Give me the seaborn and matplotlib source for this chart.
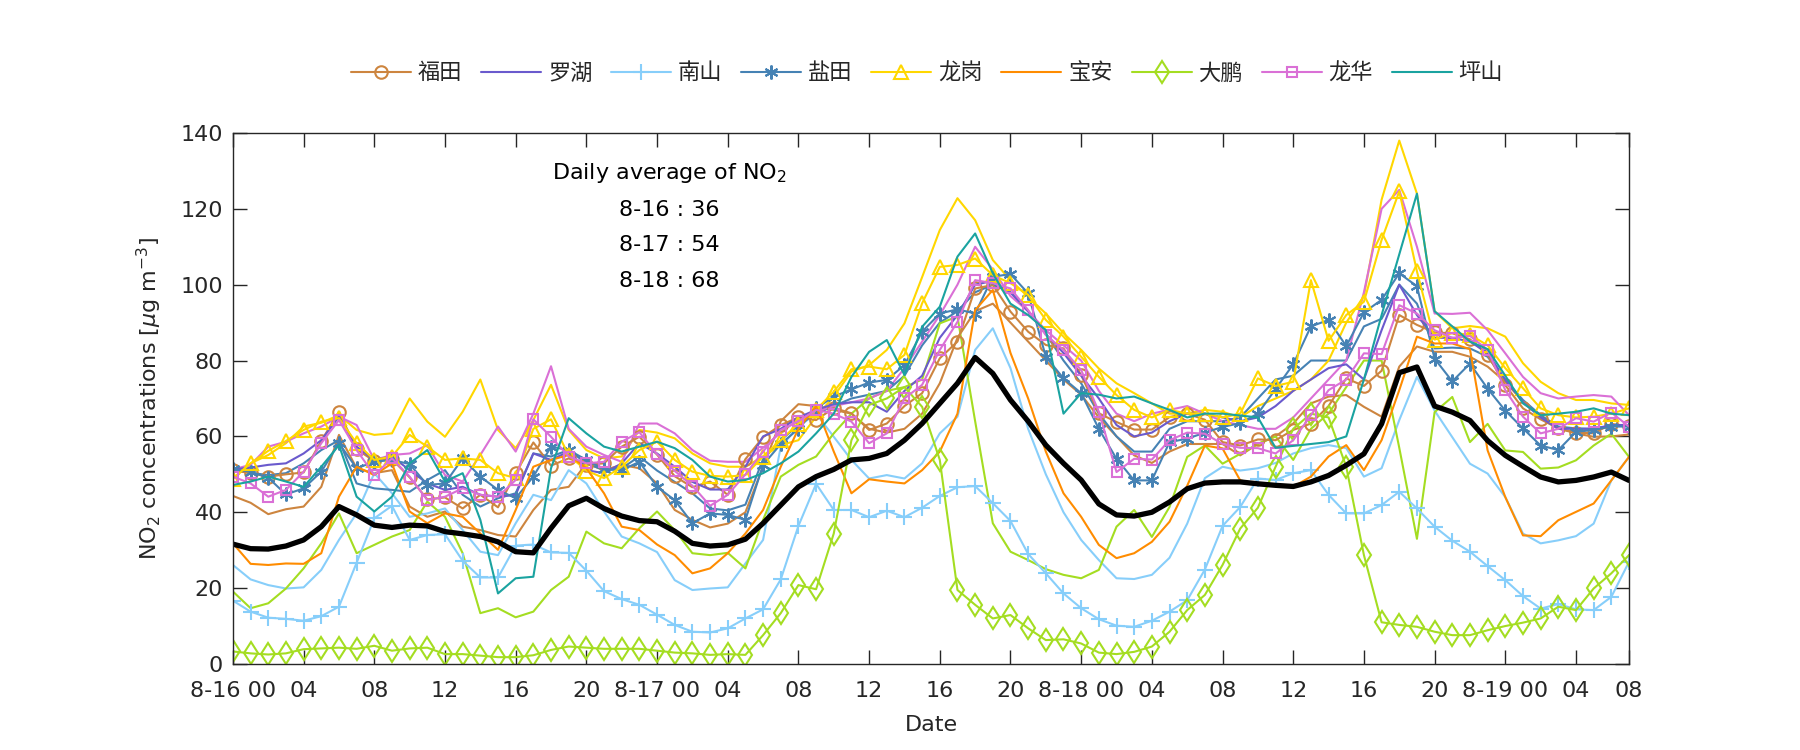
import numpy as np
import pandas as pd
import matplotlib
matplotlib.use("Agg")
import matplotlib.pyplot as plt
import seaborn as sns

# ============================
# ========== DATA ============
# ============================

hours = np.arange(80)

stations = ["福田", "罗湖", "南山", "盐田", "龙岗", "宝安", "大鹏", "龙华", "坪山"]

xtick_pos = list(range(0, 77, 4)) + [79]
xtick_labels = ["8-16 00", "04", "08", "12", "16", "20",
                "8-17 00", "04", "08", "12", "16", "20",
                "8-18 00", "04", "08", "12", "16", "20",
                "8-19 00", "04", "08"]

daily_days = ["8-16", "8-17", "8-18"]
daily_avg = [36, 54, 68]

# station series drawn with markers (legend entries)
futian = [51.1, 50.3, 49.4, 50.0, 50.5, 58.8, 66.5, 56.6, 53.5, 54.0,
          49.2, 43.4, 43.9, 41.0, 44.6, 41.3, 50.3, 58.4, 52.3, 54.2,
          52.5, 52.9, 57.3, 59.9, 55.2, 49.5, 46.6, 48.1, 44.6, 54.0,
          59.8, 63.0, 65.0, 64.3, 67.5, 66.1, 61.7, 63.4, 68.0, 71.4,
          80.6, 85.0, 99.0, 99.9, 92.9, 87.6, 84.1, 83.2, 76.2, 66.1,
          63.8, 61.8, 61.8, 65.1, 66.0, 64.4, 58.5, 57.6, 59.2, 59.0,
          61.7, 63.4, 68.0, 75.3, 73.3, 77.3, 92.0, 89.4, 87.4, 87.2,
          85.6, 81.5, 73.5, 67.4, 64.5, 62.1, 61.0, 60.8, 63.3, 62.7]

luohu = [51.3, 51.8, 52.5, 52.9, 55.5, 59.0, 65.2, 57.3, 53.8, 54.7,
         51.1, 47.6, 45.9, 46.7, 44.6, 44.1, 44.6, 55.5, 53.8, 56.0,
         51.1, 50.3, 52.9, 58.2, 55.5, 52.0, 48.0, 46.0, 46.0, 52.0,
         60.0, 62.0, 65.0, 67.0, 68.5, 69.0, 69.0, 66.5, 72.0, 76.0,
         86.0, 92.0, 100.0, 101.0, 98.0, 93.0, 87.0, 82.0, 76.0, 70.0,
         63.0, 60.0, 61.0, 64.0, 66.0, 66.0, 65.0, 64.0, 65.0, 68.0,
         72.0, 75.0, 78.0, 79.0, 75.0, 88.0, 100.0, 92.0, 86.0, 86.0,
         85.0, 82.0, 75.0, 69.0, 65.0, 62.0, 62.0, 62.0, 63.0, 63.0]

nanshan = [16.7, 13.8, 12.2, 11.9, 11.4, 12.6, 15.1, 26.7, 38.4, 41.7,
           32.7, 34.0, 34.2, 27.2, 22.8, 22.8, 31.2, 31.5, 29.4, 29.3,
           24.6, 19.2, 17.1, 15.6, 13.0, 10.3, 8.5, 8.3, 9.4, 12.0,
           14.4, 22.3, 36.4, 47.5, 40.6, 40.6, 38.7, 40.4, 38.7, 41.2,
           44.3, 46.6, 46.9, 42.4, 37.7, 29.0, 23.9, 18.6, 14.7, 11.8,
           10.1, 9.8, 11.4, 13.8, 16.8, 24.9, 36.4, 41.4, 48.9, 48.5,
           50.3, 51.1, 44.6, 39.7, 39.7, 41.9, 45.4, 41.0, 36.2, 32.5,
           29.6, 25.8, 22.1, 17.9, 14.6, 15.8, 14.4, 14.2, 17.7, 26.9]

yantian = [51.3, 50.7, 49.1, 44.7, 46.3, 50.7, 58.2, 51.6, 53.3, 53.8,
           52.7, 47.2, 47.6, 54.2, 49.4, 45.9, 43.7, 49.4, 57.3, 56.4,
           53.8, 51.3, 51.1, 53.3, 46.7, 43.2, 37.1, 39.7, 39.3, 38.0,
           52.5, 58.0, 62.0, 67.4, 70.5, 72.4, 74.2, 74.9, 78.8, 87.6,
           92.4, 93.5, 92.4, 102.1, 102.8, 97.7, 81.0, 75.3, 71.4, 62.0,
           54.1, 48.4, 48.4, 58.5, 59.4, 61.0, 62.5, 63.5, 66.0, 72.5,
           79.0, 89.0, 90.7, 83.8, 92.7, 96.0, 103.0, 99.6, 80.5, 74.5,
           79.2, 72.6, 66.8, 62.1, 57.6, 56.4, 61.2, 61.7, 62.6, 62.6]

longgang = [48.9, 52.9, 56.2, 58.8, 61.7, 63.9, 64.8, 58.2, 53.8, 54.7,
            60.4, 57.3, 53.8, 54.2, 53.8, 50.3, 49.0, 62.0, 64.5, 55.0,
            51.0, 49.0, 52.0, 56.4, 58.6, 53.8, 50.7, 49.6, 49.4, 49.8,
            54.7, 59.0, 63.4, 67.0, 71.8, 77.7, 78.4, 77.7, 81.5, 95.1,
            104.7, 105.2, 106.9, 102.5, 100.4, 97.3, 90.7, 86.3, 81.0, 75.7,
            70.9, 67.0, 65.0, 67.0, 66.0, 66.0, 65.0, 66.0, 75.3, 73.3,
            74.4, 101.2, 85.2, 92.0, 95.5, 111.8, 124.6, 103.5, 85.5, 87.3,
            86.8, 84.0, 78.0, 72.7, 67.4, 65.6, 65.0, 65.2, 66.0, 67.4]

baoan = [31.8, 26.4, 26.1, 26.5, 26.4, 29.2, 44.1, 52.0, 49.8, 52.9,
         40.2, 37.1, 39.7, 38.8, 34.4, 30.1, 40.6, 52.0, 53.8, 55.1,
         51.6, 45.0, 36.2, 35.3, 31.5, 28.7, 23.9, 25.2, 29.2, 34.4,
         40.6, 52.0, 62.0, 68.0, 56.0, 45.0, 48.7, 48.1, 47.6, 51.1,
         56.0, 66.0, 93.3, 98.6, 82.0, 70.0, 56.0, 45.0, 38.8, 31.4,
         27.9, 29.2, 32.2, 37.5, 47.0, 57.6, 56.8, 48.4, 47.5, 47.0,
         46.7, 49.4, 54.7, 57.7, 51.1, 59.0, 72.2, 86.3, 84.5, 84.5,
         83.0, 56.3, 44.0, 33.9, 33.7, 37.9, 40.1, 42.3, 48.4, 54.6]

dapeng = [3.3, 2.8, 2.5, 2.8, 3.9, 4.1, 4.3, 4.0, 4.8, 3.5,
          4.1, 4.3, 2.6, 2.6, 2.2, 1.8, 1.8, 2.3, 3.7, 4.6,
          4.3, 4.0, 4.0, 4.0, 3.5, 3.0, 2.8, 2.4, 2.6, 2.4,
          7.6, 13.4, 20.8, 19.7, 34.4, 59.0, 68.3, 70.0, 73.0, 67.8,
          53.8, 19.5, 15.6, 12.0, 12.9, 9.4, 6.3, 6.5, 5.4, 3.0,
          2.6, 3.2, 4.6, 8.5, 14.2, 18.2, 26.1, 35.7, 41.2, 52.0,
          62.0, 66.0, 65.0, 52.0, 28.7, 11.0, 10.3, 9.8, 8.5, 7.6,
          7.6, 8.9, 10.0, 10.9, 12.0, 15.1, 14.2, 19.9, 23.9, 28.7]

longhua = [49.4, 47.6, 44.1, 45.9, 50.7, 58.2, 64.3, 56.4, 49.8, 54.2,
           49.4, 43.2, 44.1, 46.3, 44.6, 44.1, 48.5, 64.5, 59.9, 54.7,
           52.9, 53.3, 58.6, 61.1, 55.3, 50.9, 47.0, 41.7, 44.6, 50.0,
           56.0, 61.7, 64.0, 67.0, 66.0, 63.9, 58.2, 60.8, 70.0, 73.6,
           82.8, 90.2, 101.2, 100.4, 99.0, 93.3, 86.7, 82.8, 77.5, 66.5,
           50.6, 54.1, 53.9, 59.0, 61.0, 60.7, 58.0, 57.0, 56.9, 55.5,
           59.0, 65.6, 72.2, 75.0, 81.9, 81.7, 94.6, 92.4, 88.0, 86.0,
           86.5, 82.8, 72.2, 65.2, 60.8, 62.0, 64.8, 63.9, 66.3, 62.6]

pingshan = [47.2, 48.1, 49.4, 48.1, 46.7, 52.0, 57.7, 44.1, 40.2, 44.1,
            52.9, 56.4, 48.1, 50.3, 38.0, 18.6, 22.6, 23.0, 51.6, 64.8,
            60.8, 57.3, 56.0, 57.3, 58.6, 56.9, 53.8, 49.4, 48.1, 48.5,
            50.3, 52.9, 56.0, 60.8, 66.0, 75.7, 82.3, 85.4, 76.2, 88.9,
            94.2, 107.4, 113.5, 103.0, 95.0, 92.0, 88.0, 66.0, 71.4, 71.0,
            70.0, 70.5, 68.7, 67.0, 65.0, 66.0, 66.0, 65.5, 65.0, 57.0,
            57.5, 58.0, 58.5, 60.0, 75.0, 92.0, 108.0, 124.0, 93.0, 89.0,
            85.0, 83.0, 76.0, 68.7, 65.6, 66.0, 66.5, 67.4, 66.0, 65.6]

# second set of lines for some stations (no markers)
futian_alt = [44.3, 42.5, 39.5, 40.8, 41.5, 46.7, 60.4, 51.6, 50.3, 51.1,
              41.5, 38.8, 40.2, 36.2, 35.3, 34.0, 33.6, 40.6, 45.9, 46.7,
              52.9, 51.1, 52.5, 51.6, 47.6, 40.6, 38.0, 36.0, 37.0, 40.0,
              52.0, 64.0, 68.5, 68.0, 67.0, 66.0, 62.0, 61.0, 62.0, 66.0,
              74.0, 86.0, 93.0, 95.0, 90.0, 85.0, 80.0, 75.0, 71.0, 65.0,
              60.0, 55.0, 53.0, 56.0, 58.0, 58.0, 58.0, 55.0, 58.0, 60.0,
              63.4, 68.7, 70.5, 70.9, 67.8, 65.2, 78.4, 83.7, 82.3, 82.3,
              81.0, 78.4, 74.4, 69.2, 65.2, 62.1, 60.8, 59.9, 60.0, 60.5]

nanshan_alt = [26.1, 22.3, 20.8, 19.9, 20.2, 24.8, 32.7, 39.7, 50.3, 45.0,
               38.8, 39.7, 41.0, 35.3, 29.6, 28.7, 37.1, 44.6, 43.2, 51.1,
               47.6, 40.2, 33.6, 31.8, 29.5, 22.1, 19.5, 19.9, 20.2, 26.5,
               32.7, 57.3, 62.6, 66.0, 59.9, 53.8, 48.9, 49.8, 48.9, 52.9,
               60.8, 65.2, 82.8, 88.5, 78.0, 62.0, 50.0, 40.0, 32.7, 27.4,
               22.6, 22.4, 23.5, 28.0, 37.0, 49.0, 52.0, 51.0, 51.6, 53.0,
               55.5, 56.9, 57.7, 56.9, 49.4, 51.6, 64.3, 75.7, 66.8, 59.8,
               52.8, 50.2, 44.0, 34.4, 31.8, 32.6, 33.7, 37.0, 48.4, 54.6]

yantian_alt = [51.1, 50.4, 49.8, 50.3, 52.9, 56.4, 59.0, 47.6, 46.3, 45.9,
               45.4, 48.5, 51.1, 44.6, 41.5, 43.7, 45.0, 55.5, 54.7, 56.4,
               52.9, 51.1, 51.6, 54.7, 51.0, 48.0, 45.0, 41.0, 40.5, 42.0,
               54.0, 59.0, 63.0, 66.0, 68.0, 70.0, 71.0, 72.0, 76.0, 84.0,
               90.0, 93.0, 98.0, 100.0, 98.0, 93.0, 87.0, 80.0, 74.0, 66.0,
               60.0, 56.0, 56.0, 62.0, 64.0, 64.0, 64.0, 65.0, 70.0, 75.0,
               76.0, 80.0, 80.0, 80.0, 89.0, 91.0, 100.0, 95.0, 83.2, 83.4,
               83.2, 81.0, 74.9, 69.6, 65.6, 62.6, 62.1, 62.0, 62.8, 63.0]

longgang_alt = [48.9, 52.9, 55.1, 58.2, 62.6, 63.6, 65.6, 61.7, 60.4, 60.8,
                70.0, 63.9, 59.9, 66.5, 75.0, 61.7, 56.9, 64.3, 73.6, 61.7,
                56.4, 54.2, 54.7, 61.7, 61.0, 59.5, 55.5, 52.9, 52.0, 52.0,
                54.7, 57.7, 59.0, 65.2, 70.5, 77.1, 78.8, 82.8, 89.8, 102.0,
                114.4, 122.8, 117.0, 106.5, 101.2, 96.8, 92.4, 87.2, 82.8, 77.9,
                74.0, 71.4, 68.7, 66.0, 66.0, 67.0, 66.5, 65.0, 68.0, 70.0,
                72.0, 75.0, 80.0, 90.0, 97.0, 122.4, 138.0, 124.0, 93.0, 88.5,
                89.1, 88.5, 86.3, 79.3, 74.4, 71.4, 69.6, 69.6, 68.7, 68.3]

dapeng_alt = [19.1, 14.7, 16.0, 19.9, 25.2, 31.8, 39.7, 29.2, 31.4, 33.6,
              35.3, 42.8, 38.8, 29.2, 13.4, 14.7, 12.3, 13.8, 19.5, 23.0,
              34.9, 31.8, 30.5, 35.8, 40.2, 35.3, 29.2, 28.7, 29.3, 25.2,
              38.0, 49.4, 52.5, 54.7, 60.8, 66.0, 70.0, 72.0, 73.0, 75.0,
              89.8, 91.6, 64.0, 37.1, 29.6, 27.4, 25.0, 23.5, 22.6, 24.8,
              36.2, 40.6, 33.5, 41.4, 54.6, 57.6, 52.8, 55.4, 58.0, 60.0,
              53.8, 62.0, 66.0, 73.0, 80.0, 80.0, 57.0, 33.0, 66.4, 70.4,
              58.5, 63.3, 56.3, 55.9, 51.5, 51.8, 53.7, 57.6, 60.7, 54.6]

longhua_alt = [51.3, 52.5, 57.3, 58.6, 60.8, 62.6, 65.2, 63.0, 53.8, 55.1,
               55.5, 57.7, 49.8, 48.1, 55.1, 62.6, 56.0, 66.0, 78.5, 62.0,
               57.3, 55.1, 53.3, 63.4, 63.4, 60.8, 56.4, 53.6, 53.3, 53.3,
               57.0, 61.0, 64.5, 66.5, 68.0, 69.0, 70.0, 72.0, 78.0, 85.0,
               92.0, 100.0, 110.0, 104.0, 97.0, 93.0, 88.0, 84.0, 80.0, 72.0,
               66.0, 64.0, 66.0, 67.0, 68.0, 66.0, 64.0, 63.0, 62.0, 62.0,
               65.0, 70.0, 75.0, 80.0, 98.0, 120.0, 125.0, 110.0, 92.4, 92.3,
               92.6, 88.0, 81.9, 75.7, 71.4, 70.0, 70.5, 70.9, 70.5, 65.6]

# average of all stations (thick black line)
mean_no2 = [31.6, 30.4, 30.3, 31.1, 32.7, 36.2, 41.5, 39.3, 36.6, 36.0,
            36.6, 36.4, 34.9, 34.3, 33.6, 32.2, 29.6, 29.3, 35.8, 41.7,
            43.7, 41.0, 39.0, 37.8, 37.5, 35.0, 31.8, 31.1, 31.4, 32.9,
            37.1, 41.9, 46.7, 49.4, 51.3, 53.8, 54.2, 55.5, 59.0, 63.4,
            68.7, 74.0, 80.8, 76.6, 69.6, 64.0, 57.7, 52.9, 48.5, 42.2,
            39.3, 39.0, 40.0, 42.7, 46.2, 47.7, 48.0, 48.0, 47.5, 47.1,
            46.8, 48.0, 49.7, 52.4, 55.4, 63.3, 76.8, 78.3, 68.0, 66.4,
            64.2, 58.9, 55.0, 52.1, 49.3, 48.0, 48.4, 49.3, 50.6, 48.4]

# ============================
# ======== STYLES ============
# ============================

colors = {
    "福田": "#CD853F",
    "罗湖": "#6A5ACD",
    "南山": "#87CEFA",
    "盐田": "#4682B4",
    "龙岗": "#FFD700",
    "宝安": "#FF8C00",
    "大鹏": "#A4DD21",
    "龙华": "#DA70D6",
    "坪山": "#1AA3A0",
}
markers = {
    "福田": ("o", 9),
    "罗湖": (None, 0),
    "南山": ("+", 11),
    "盐田": ((6, 2, 0), 10),
    "龙岗": ("^", 10),
    "宝安": (None, 0),
    "大鹏": ("d", 11.5),
    "龙华": ("s", 6.5),
    "坪山": (None, 0),
}

main_series = [futian, luohu, nanshan, yantian, longgang, baoan, dapeng, longhua, pingshan]
alt_series = {"福田": futian_alt, "南山": nanshan_alt, "盐田": yantian_alt,
              "龙岗": longgang_alt, "大鹏": dapeng_alt, "龙华": longhua_alt}

# ============================
# ========= PLOT =============
# ============================

sns.set_theme(context="notebook", style="ticks")
plt.rcParams["font.family"] = ["DejaVu Sans", "Noto Sans CJK SC"]
plt.rcParams["axes.unicode_minus"] = False

fig = plt.figure(figsize=(18, 7.5), dpi=100)
ax = fig.add_axes([0.1294, 0.1147, 0.7756, 0.708])

lw = 1.5

# plain lines first
for name, vals in alt_series.items():
    sns.lineplot(x=hours, y=vals, ax=ax, color=colors[name], linewidth=lw,
                 legend=False)

# station lines with markers
handles = []
for name, vals in zip(stations, main_series):
    mk, ms = markers[name]
    sns.lineplot(x=hours, y=vals, ax=ax, color=colors[name], linewidth=lw,
                 marker=mk, markersize=ms, markerfacecolor="none",
                 markeredgecolor=colors[name], markeredgewidth=1.5,
                 legend=False)
    line = ax.get_lines()[-1]
    line.set_label(name)
    handles.append(line)

# regional mean
sns.lineplot(x=hours, y=mean_no2, ax=ax, color="black", linewidth=3.8,
             legend=False)

ax.set_xlim(0, 79)
ax.set_ylim(0, 140)
ax.set_xticks(xtick_pos)
ax.set_xticklabels(xtick_labels)
ax.set_yticks(range(0, 141, 20))

for side in ["top", "right", "bottom", "left"]:
    ax.spines[side].set_visible(True)
    ax.spines[side].set_color("#262626")
    ax.spines[side].set_linewidth(1.0)
ax.tick_params(axis="both", direction="in", length=10, width=1.0,
               colors="#262626", labelsize=16, top=True, right=True)
ax.tick_params(axis="x", pad=12)
ax.tick_params(axis="y", pad=7)

ax.set_xlabel("Date", fontsize=16, color="#262626", labelpad=10)
ax.set_ylabel("NO$_2$ concentrations [$\\mu$g m$^{-3}$]", fontsize=16,
              color="#262626", labelpad=12)

# daily average annotation
ax.text(24.7, 129.5, "Daily average of NO$_2$", ha="center", va="center",
        fontsize=16, color="black")
for i, (day, avg) in enumerate(zip(daily_days, daily_avg)):
    ax.text(24.7, 119.7 - i * 9.3, f"{day} : {avg}", ha="center", va="center",
            fontsize=16, color="black")

fig.legend(handles=handles, labels=stations, loc="center",
           bbox_to_anchor=(0.515, 0.903), ncol=9, frameon=False,
           fontsize=16, handlelength=2.7, handletextpad=0.3,
           columnspacing=0.85)

fig.savefig("out.png", dpi=100)
